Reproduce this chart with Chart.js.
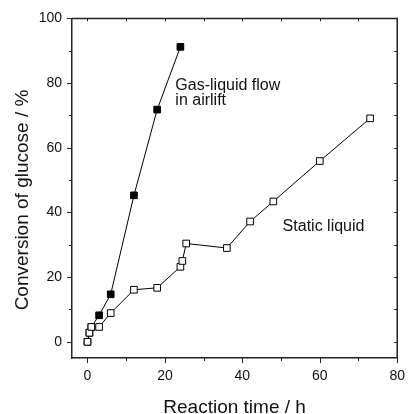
<!DOCTYPE html>
<html>
<head>
<meta charset="utf-8">
<script src="https://cdn.jsdelivr.net/npm/chart.js@4.4.1/dist/chart.umd.min.js"></script>
<style>
  html, body { margin: 0; padding: 0; background: #fff; }
</style>
</head>
<body>
<canvas id="conversionChart" width="415" height="414"></canvas>
<script>
// reaction time (h) and glucose conversion (%)
const airliftTime = [0, 0.5, 1, 3, 6, 12, 18, 24];
const airliftConv = [0, 2.8, 4.6, 8.2, 14.7, 45.3, 71.8, 91.2];
const staticTime = [0, 0.5, 1, 3, 6, 12, 18, 24, 24.5, 25.5, 36, 42, 48, 60, 73];
const staticConv = [0, 2.8, 4.6, 4.6, 8.9, 16.1, 16.7, 23.2, 25.0, 30.4, 29.0, 37.2, 43.4, 55.9, 69.1];

// tick labels
const xTicks = [0, 20, 40, 60, 80];
const yTicks = [0, 20, 40, 60, 80, 100];

const FONT = 'Liberation Sans, Arial, sans-serif';

// join x and y lists into points
function toPoints (xs, ys) {
    return xs.map(function (v, i) { return { x: v, y: ys[i] }; });
}

// draws the closed frame, minor/major tick marks, axis titles and the in-plot labels
const frameAndLabels = {
    id: 'frameAndLabels',
    afterDraw (chart) {
        const ctx = chart.ctx;
        const a = chart.chartArea;
        const x = chart.scales.x;
        const y = chart.scales.y;
        ctx.save();
        ctx.strokeStyle = '#222';
        ctx.lineWidth = 1.5;
        ctx.beginPath();
        ctx.moveTo(a.left, a.top);
        ctx.lineTo(a.right, a.top);
        ctx.lineTo(a.right, a.bottom);
        ctx.stroke();

        ctx.lineWidth = 1;
        ctx.beginPath();
        for (let v = 0; v <= 80; v += 10) {
            const px = Math.round(x.getPixelForValue(v)) + 0.5;
            const len = v % 20 === 0 ? 5 : 3;
            ctx.moveTo(px, a.bottom);
            ctx.lineTo(px, a.bottom + len);
            ctx.moveTo(px, a.top);
            ctx.lineTo(px, a.top + 3);
        }
        for (let v = 0; v <= 100; v += 10) {
            const py = Math.round(y.getPixelForValue(v)) + 0.5;
            const len = v % 20 === 0 ? 5 : 3;
            ctx.moveTo(a.left, py);
            ctx.lineTo(a.left - len, py);
            ctx.moveTo(a.right, py);
            ctx.lineTo(a.right - 3, py);
        }
        ctx.stroke();

        ctx.fillStyle = '#111';
        // x axis title
        ctx.font = '19px ' + FONT;
        ctx.textAlign = 'center';
        ctx.textBaseline = 'alphabetic';
        ctx.fillText('Reaction time / h', (a.left + a.right) / 2, 413);
        // y axis title
        ctx.save();
        ctx.translate(28, 200);
        ctx.rotate(-Math.PI / 2);
        ctx.fillText('Conversion of glucose / %', 0, 0);
        ctx.restore();

        // series labels, anchored in data units
        ctx.font = '16px ' + FONT;
        ctx.textAlign = 'left';
        const gx = x.getPixelForValue(22.7);
        const gy = y.getPixelForValue(77.8);
        ctx.fillText('Gas-liquid flow', gx, gy);
        ctx.fillText('in airlift', gx, gy + 15);
        ctx.fillText('Static liquid', x.getPixelForValue(50.4), y.getPixelForValue(34.2));
        ctx.restore();
    }
};

const config = {
    type: 'scatter',
    data: {
        datasets: [
            {
                label: 'Static liquid',
                data: toPoints(staticTime, staticConv),
                showLine: true,
                borderColor: '#000',
                borderWidth: 1,
                pointStyle: 'rect',
                pointRadius: 4.7,
                pointBackgroundColor: '#fff',
                pointBorderColor: '#000',
                pointBorderWidth: 1,
                order: 1
            },
            {
                label: 'Gas-liquid flow in airlift',
                data: toPoints(airliftTime, airliftConv),
                showLine: true,
                borderColor: '#000',
                borderWidth: 1,
                pointStyle: 'rect',
                pointRadius: 4.7,
                pointBackgroundColor: '#000',
                pointBorderColor: '#000',
                pointBorderWidth: 1,
                order: 2
            }
        ]
    },
    options: {
        responsive: false,
        animation: false,
        layout: { padding: { top: 17, right: 9, left: 0, bottom: 0 } },
        plugins: {
            legend: { display: false },
            tooltip: { enabled: false }
        },
        scales: {
            x: {
                type: 'linear',
                min: -4,
                max: 80,
                afterFit (scale) { scale.height = 56; },
                afterBuildTicks (scale) { scale.ticks = xTicks.map(function (v) { return { value: v }; }); },
                grid: { display: false, drawTicks: false },
                border: { display: true, color: '#222', width: 1.5 },
                ticks: { padding: 10, color: '#111', font: { family: FONT, size: 14 }, maxRotation: 0 }
            },
            y: {
                type: 'linear',
                min: -5,
                max: 100,
                afterFit (scale) { scale.width = 72; },
                afterBuildTicks (scale) { scale.ticks = yTicks.map(function (v) { return { value: v }; }); },
                grid: { display: false, drawTicks: false },
                border: { display: true, color: '#222', width: 1.5 },
                ticks: { padding: 10, color: '#111', font: { family: FONT, size: 14 } }
            }
        }
    },
    plugins: [frameAndLabels]
};

const myChart = new Chart(document.getElementById('conversionChart'), config);
</script>
</body>
</html>
